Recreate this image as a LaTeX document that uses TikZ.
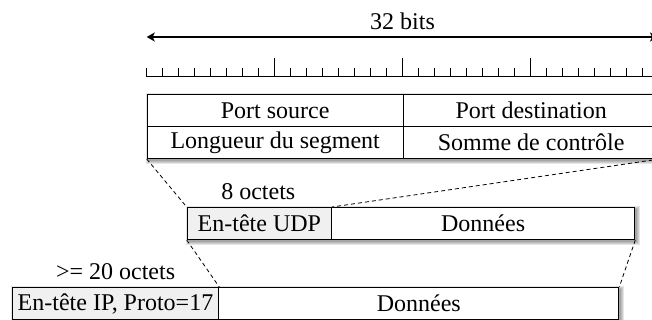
\documentclass[tikz,border=0pt]{standalone}
\usepackage{fontspec}
\setmainfont{Liberation Serif}
\usetikzlibrary{arrows.meta,backgrounds}
\begin{document}
\begin{tikzpicture}[x=0.5pt,y=-0.5pt,
  txt/.style={font=\fontsize{12}{14}\selectfont},
  cell/.style={txt, draw=black, line width=0.5pt, fill=white, minimum height=16pt,
               inner sep=0pt, anchor=north west},
  hdr/.style={cell, fill=gray!12},
  lbl/.style={txt, inner sep=0pt},
  zoomline/.style={dash pattern=on 2pt off 1.5pt, line width=0.4pt},
  ruler/.style={line width=0.5pt},
  shade/.style={black, opacity=0.1}]
\useasboundingbox (0,0) rectangle (652,320);
\clip (0,0) rectangle (652,320);

% width of the 32-bit word
\coordinate (wl) at (146.7,37);
\coordinate (wr) at (658,37);
\draw[line width=0.6pt, {Stealth[length=4pt,width=4.5pt,inset=1pt]}-{Stealth[length=4pt,width=4.5pt,inset=1pt]}] (wl) -- (wr);
\node[lbl] (bits) at (402.5,21) {32 bits};

% bit ruler
\draw[ruler] (146.7,77) -- (658,77);
\foreach \i in {0,...,32} \draw[ruler] (146.7+16*\i,77) -- (146.7+16*\i,68);
\foreach \i in {8,16,24,32} \draw[ruler] (146.7+16*\i,77) -- (146.7+16*\i,58);

% UDP header fields
\node[cell, minimum width=128pt] (ps) at (146.7,94) {Port source};
\node[cell, minimum width=128pt] (pd) at (402.7,94) {Port destination};
\node[cell, minimum width=128pt] (ls) at (146.7,126) {Longueur du segment};
\node[cell, minimum width=128pt] (sc) at (402.7,126) {Somme de contrôle};

% UDP segment
\node[lbl] (udplen) at (258.3,192) {8 octets};
\node[hdr, minimum width=72.15pt] (uh) at (186.7,207) {En-tête UDP};
\node[cell, minimum width=151.65pt] (ud) at (331,207) {Données};

% IP packet
\node[lbl] (iplen) at (115.6,271.5) {>= 20 octets};
\node[hdr, minimum width=103.3pt] (ih) at (11.7,287) {En-tête IP, Proto=17};
\node[cell, minimum width=200pt] (id) at (218.3,287) {Données};

% zoom lines between the levels
\draw[zoomline] (ls.south west) -- (uh.north west);
\draw[zoomline] (sc.south east) -- (uh.north east);
\draw[zoomline] (uh.south west) -- (ih.north east);
\draw[zoomline] (ud.south east) -- (id.north east);

% soft drop shadows
\begin{scope}[on background layer]
\foreach \e in {0,0.5,1,1.5} {
  \fill[shade] ([xshift=1pt-\e*1pt, yshift=-1pt+\e*1pt]ps.north west) rectangle ([xshift=1pt+\e*1pt, yshift=-1pt-\e*1pt]sc.south east);
  \fill[shade] ([xshift=1pt-\e*1pt, yshift=-1pt+\e*1pt]uh.north west) rectangle ([xshift=1pt+\e*1pt, yshift=-1pt-\e*1pt]ud.south east);
  \fill[shade] ([xshift=1pt-\e*1pt, yshift=-1pt+\e*1pt]ih.north west) rectangle ([xshift=1pt+\e*1pt, yshift=-1pt-\e*1pt]id.south east);
}
\end{scope}
\end{tikzpicture}
\end{document}
